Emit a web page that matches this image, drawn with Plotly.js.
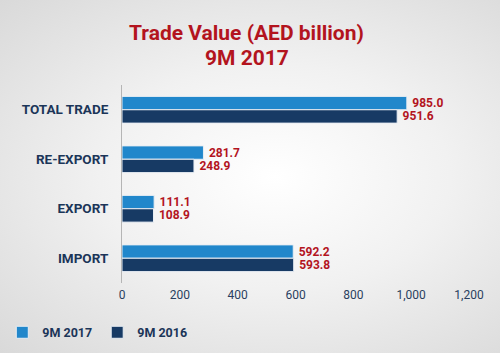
<!DOCTYPE html>
<html>
<head>
<meta charset="utf-8">
<script src="https://cdn.plot.ly/plotly-3.0.1.min.js"></script>
<style>
html,body{margin:0;padding:0;}
body{width:500px;height:353px;background:radial-gradient(ellipse at 55% 50%, #ffffff 0%, #f1f1f1 45%, #d9d9d9 100%);}
#chart{width:500px;height:353px;}
</style>
</head>
<body>
<div id="chart"></div>
<script>
const categories = ["TOTAL TRADE", "RE-EXPORT", "EXPORT", "IMPORT"];
const values2017 = [985.0, 281.7, 111.1, 592.2];
const values2016 = [951.6, 248.9, 108.9, 593.8];
const seriesNames = ["9M 2017", "9M 2016"];
const xTicks = [0, 200, 400, 600, 800, 1000, 1200];
const xTickLabels = ["0", "200", "400", "600", "800", "1,000", "1,200"];

const FONT = "Roboto, 'DejaVu Sans', sans-serif";
const labelFont = {family: FONT, size: 12, color: "#b3141e", weight: 700};

function fmt(v){ return "\u2009" + v.toFixed(1); }

const traces = [
  {
    type: "bar", orientation: "h", name: seriesNames[0],
    y: categories, x: values2017,
    text: values2017.map(fmt), textposition: "outside", cliponaxis: false,
    constraintext: "none",
    textfont: labelFont,
    marker: {color: "#2187cb", line: {color: "#e8eef4", width: 1}},
    hoverinfo: "none"
  },
  {
    type: "bar", orientation: "h", name: seriesNames[1],
    y: categories, x: values2016,
    text: values2016.map(fmt), textposition: "outside", cliponaxis: false,
    constraintext: "none",
    textfont: labelFont,
    marker: {color: "#173a64", line: {color: "#e8eef4", width: 1}},
    hoverinfo: "none"
  }
];

const layout = {
  width: 500, height: 353,
  paper_bgcolor: "rgba(0,0,0,0)",
  plot_bgcolor: "rgba(0,0,0,0)",
  margin: {l: 122, r: 31, t: 85, b: 70, pad: 0, autoexpand: false},
  barmode: "group",
  bargap: 0.46,
  bargroupgap: 0,
  showlegend: true,
  legend: {
    orientation: "h", x: -0.345, y: -0.175, xanchor: "left", yanchor: "top",
    font: {family: FONT, size: 12.5, color: "#1b3558", weight: 700},
    bgcolor: "rgba(0,0,0,0)", itemwidth: 30, tracegroupgap: 0
  },
  xaxis: {
    range: [0, 1200], tickvals: xTicks, ticktext: xTickLabels,
    showgrid: false, zeroline: false, showline: false, ticks: "",
    tickfont: {family: FONT, size: 12, color: "#2a3f5f"},
    ticklabelstandoff: 3, fixedrange: true, automargin: false
  },
  yaxis: {
    type: "category", autorange: "reversed",
    showgrid: false, zeroline: false, showline: true, linecolor: "#b5b5b5", linewidth: 1,
    ticks: "", ticklabelstandoff: 10, automargin: false,
    tickfont: {family: FONT, size: 13.5, color: "#1b3558", weight: 700},
    fixedrange: true
  },
  annotations: [
    {text: "Trade Value (AED billion)", xref: "paper", yref: "paper", x: 0.36, y: 1.265,
     xanchor: "center", yanchor: "middle", showarrow: false,
     font: {family: FONT, size: 21, color: "#b3141e", weight: 700}},
    {text: "9M 2017", xref: "paper", yref: "paper", x: 0.36, y: 1.135,
     xanchor: "center", yanchor: "middle", showarrow: false,
     font: {family: FONT, size: 21, color: "#b3141e", weight: 700}}
  ]
};

Plotly.newPlot("chart", traces, layout, {staticPlot: true, displayModeBar: false});
</script>
</body>
</html>
